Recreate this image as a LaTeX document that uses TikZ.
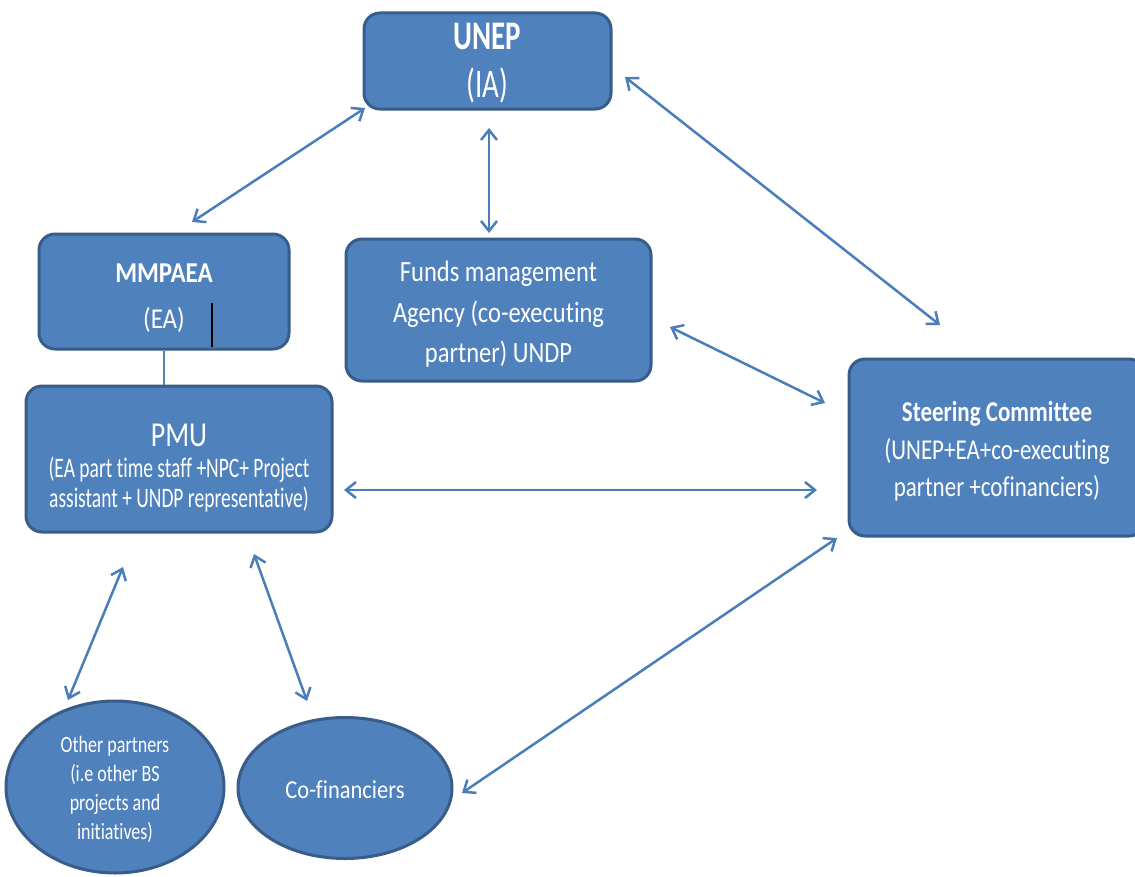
\documentclass[tikz,border=0pt]{standalone}
\usepackage{fontspec}
\setmainfont{Carlito}[Ligatures=NoCommon]
\usepackage{graphicx}
\usetikzlibrary{arrows.meta,shapes.geometric}
\definecolor{boxfill}{HTML}{4F81BD}
\definecolor{boxline}{HTML}{385D8A}
\definecolor{arrowc}{HTML}{4A7EBB}
\newcommand\stx[2]{\scalebox{1}[#1]{\begin{tabular}{@{}c@{}}#2\end{tabular}}}
\newcommand\lowr[2]{\raisebox{-#1}[\height][\depth]{#2}}
\tikzset{
  box/.style={draw=boxline, line width=3pt, fill=boxfill, rounded corners=16pt, inner sep=0pt, text=white, align=center},
  oval/.style={draw=boxline, line width=3pt, fill=boxfill, ellipse, inner sep=0pt, text=white, align=center},
  link/.style={draw=arrowc, line width=2.5pt, {Straight Barb[length=10pt,width=16pt]}-{Straight Barb[length=10pt,width=16pt]}},
  plain/.style={draw=boxfill, line width=2.5pt},
}
\begin{document}
\begin{tikzpicture}[x=1pt,y=-1pt]
\clip (0,0) rectangle (1135,876);
\fill[white] (0,0) rectangle (1135,876);

\node[box, minimum width=247, minimum height=96, font=\fontsize{29}{34.3}\selectfont] (unep) at (487.5,61)
  {\lowr{3pt}{\stx{1.4}{\textbf{UNEP}\\(IA)}}};
\node[box, minimum width=250, minimum height=115, font=\fontsize{25}{39.5}\selectfont] (mmpaea) at (164,291.5)
  {\lowr{5pt}{\stx{1.15}{\textbf{MMPAEA}\\(EA)}}};
\node[box, minimum width=306, minimum height=146, font=\fontsize{19.5}{20.5}\selectfont] (pmu) at (179,459)
  {\lowr{11pt}{\begin{tabular}{@{}c@{}}\stx{1.25}{\fontsize{28}{30}\selectfont PMU}\\[5pt]\stx{1.45}{(EA part time staff +NPC+ Project\\assistant + UNDP representative)}\end{tabular}}};
\node[box, minimum width=305, minimum height=142, font=\fontsize{24.5}{34}\selectfont] (funds) at (498.5,310)
  {\lowr{4pt}{\stx{1.2}{Funds management\\Agency (co-executing\\partner) UNDP}}};
\node[box, minimum width=296, minimum height=177, font=\fontsize{23}{30}\selectfont] (steer) at (997,447.5)
  {\lowr{4pt}{\stx{1.25}{\textbf{Steering Committee}\\(UNEP+EA+co-executing\\partner +cofinanciers)}}};
\node[oval, minimum width=218, minimum height=172, font=\fontsize{18}{22.3}\selectfont] (other) at (115,787)
  {\lowr{3pt}{\stx{1.3}{Other partners\\(i.e other BS\\projects and\\initiatives)}}};
\node[oval, minimum width=214, minimum height=141, font=\fontsize{22.5}{26}\selectfont] (cofin) at (345,788)
  {\lowr{5pt}{\stx{1.15}{Co-financiers}}};

% internal marks
\coordinate (bartop) at (212,303);
\coordinate (barbot) at (212,347);
\draw[black, line width=2pt] (bartop) -- (barbot);
\draw[plain] (mmpaea.south) -- (mmpaea.south |- pmu.north);

% arrow end points
\coordinate (a1s) at (365,108);  \coordinate (a1e) at (192,222);
\coordinate (a2s) at (489,128);  \coordinate (a2e) at (489,233);
\coordinate (a3s) at (625,77);   \coordinate (a3e) at (940,325);
\coordinate (a4s) at (670,327);  \coordinate (a4e) at (825,403);
\coordinate (a5s) at (344,490);  \coordinate (a5e) at (817,490);
\coordinate (a6s) at (123,567);  \coordinate (a6e) at (68,700);
\coordinate (a7s) at (254,554);  \coordinate (a7e) at (307,701);
\coordinate (a8s) at (462,793);  \coordinate (a8e) at (837,538);

\draw[link] (a1s) -- (a1e);
\draw[link] (a2s) -- (a2e);
\draw[link] (a3s) -- (a3e);
\draw[link] (a4s) -- (a4e);
\draw[link] (a5s) -- (a5e);
\draw[link] (a6s) -- (a6e);
\draw[link] (a7s) -- (a7e);
\draw[link] (a8s) -- (a8e);
\end{tikzpicture}
\end{document}
